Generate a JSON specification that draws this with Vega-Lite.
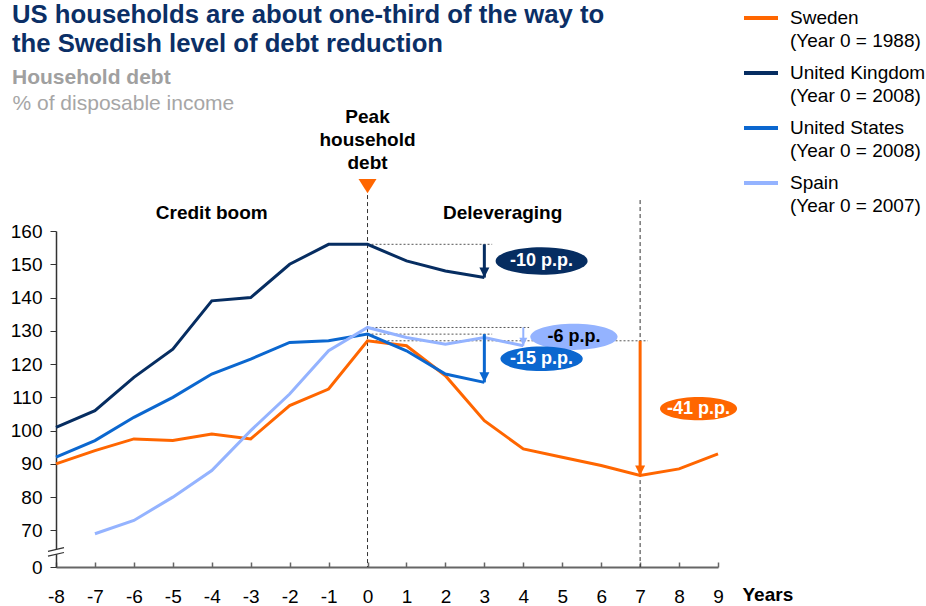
{
  "$schema": "https://vega.github.io/schema/vega-lite/v6.json",
  "width": 662,
  "height": 336,
  "autosize": {"type": "none"},
  "padding": {"left": 56, "top": 231, "right": 208, "bottom": 39},
  "background": "white",
  "config": {
    "font": "Liberation Sans",
    "view": {"stroke": null},
    "text": {"font": "Liberation Sans"},
    "axis": {"labelOverlap": false, "labelSeparation": 0}
  },
  "title": {
    "text": ["US households are about one-third of the way to", "the Swedish level of debt reduction"],
    "subtitle": "Household debt",
    "anchor": "start",
    "frame": "group",
    "offset": 0,
    "dx": -44,
    "dy": 90,
    "fontSize": 25.7,
    "font": "Liberation Sans",
    "fontWeight": "bold",
    "color": "#0b2f66",
    "lineHeight": 28.5,
    "subtitleFont": "Liberation Sans",
    "subtitleFontSize": 21,
    "subtitleFontWeight": "bold",
    "subtitleColor": "#a0a0a0",
    "subtitlePadding": 9.5
  },
  "datasets": {
    "series": [
      {"country": "Sweden", "year": -8, "value": 90},
      {"country": "Sweden", "year": -7, "value": 94},
      {"country": "Sweden", "year": -6, "value": 97.5},
      {"country": "Sweden", "year": -5, "value": 97},
      {"country": "Sweden", "year": -4, "value": 99},
      {"country": "Sweden", "year": -3, "value": 97.5},
      {"country": "Sweden", "year": -2, "value": 107.5},
      {"country": "Sweden", "year": -1, "value": 112.5},
      {"country": "Sweden", "year": 0, "value": 127},
      {"country": "Sweden", "year": 1, "value": 125.5},
      {"country": "Sweden", "year": 2, "value": 116.5},
      {"country": "Sweden", "year": 3, "value": 103},
      {"country": "Sweden", "year": 4, "value": 94.5},
      {"country": "Sweden", "year": 5, "value": 92},
      {"country": "Sweden", "year": 6, "value": 89.5},
      {"country": "Sweden", "year": 7, "value": 86.5},
      {"country": "Sweden", "year": 8, "value": 88.5},
      {"country": "Sweden", "year": 9, "value": 93},
      {"country": "United Kingdom", "year": -8, "value": 101},
      {"country": "United Kingdom", "year": -7, "value": 106},
      {"country": "United Kingdom", "year": -6, "value": 116},
      {"country": "United Kingdom", "year": -5, "value": 124.5},
      {"country": "United Kingdom", "year": -4, "value": 139},
      {"country": "United Kingdom", "year": -3, "value": 140},
      {"country": "United Kingdom", "year": -2, "value": 150},
      {"country": "United Kingdom", "year": -1, "value": 156},
      {"country": "United Kingdom", "year": 0, "value": 156},
      {"country": "United Kingdom", "year": 1, "value": 151},
      {"country": "United Kingdom", "year": 2, "value": 148},
      {"country": "United Kingdom", "year": 3, "value": 146},
      {"country": "United States", "year": -8, "value": 92},
      {"country": "United States", "year": -7, "value": 97},
      {"country": "United States", "year": -6, "value": 104},
      {"country": "United States", "year": -5, "value": 110},
      {"country": "United States", "year": -4, "value": 117},
      {"country": "United States", "year": -3, "value": 121.5},
      {"country": "United States", "year": -2, "value": 126.5},
      {"country": "United States", "year": -1, "value": 127},
      {"country": "United States", "year": 0, "value": 129},
      {"country": "United States", "year": 1, "value": 124},
      {"country": "United States", "year": 2, "value": 117},
      {"country": "United States", "year": 3, "value": 114.5},
      {"country": "Spain", "year": -7, "value": 69},
      {"country": "Spain", "year": -6, "value": 73},
      {"country": "Spain", "year": -5, "value": 80},
      {"country": "Spain", "year": -4, "value": 88},
      {"country": "Spain", "year": -3, "value": 100},
      {"country": "Spain", "year": -2, "value": 111},
      {"country": "Spain", "year": -1, "value": 124},
      {"country": "Spain", "year": 0, "value": 131},
      {"country": "Spain", "year": 1, "value": 128},
      {"country": "Spain", "year": 2, "value": 126},
      {"country": "Spain", "year": 3, "value": 128},
      {"country": "Spain", "year": 4, "value": 125.5}
    ],
    "vlines": [
      {"x": 0, "y1": 170.8, "y2": 59},
      {"x": 7, "y1": 169.3, "y2": 59}
    ],
    "hlines": [
      {"x1": 0, "x2": 3.2, "y": 156},
      {"x1": 0, "x2": 4.15, "y": 131},
      {"x1": 0, "x2": 3.2, "y": 129},
      {"x1": 0, "x2": 7.2, "y": 127}
    ],
    "arrows": [
      {"country": "United Kingdom", "x": 3, "start": 156, "end": 146},
      {"country": "United States", "x": 3, "start": 129, "end": 114.5},
      {"country": "Spain", "x": 4, "start": 131, "end": 125.5},
      {"country": "Sweden", "x": 7, "start": 127, "end": 86.5}
    ],
    "badges": [
      {"country": "United Kingdom", "label": "-10 p.p.", "x": 4.47, "y": 151},
      {"country": "Spain", "label": "-6 p.p.", "x": 5.3, "y": 128.2},
      {"country": "United States", "label": "-15 p.p.", "x": 4.47, "y": 121.6},
      {"country": "Sweden", "label": "-41 p.p.", "x": 8.5, "y": 106.6}
    ],
    "phases": [
      {"label": "Credit boom", "x": -4, "y": 165.4},
      {"label": "Deleveraging", "x": 3.47, "y": 165.4}
    ],
    "peak": [
      {"label": "Peak\nhousehold\ndebt", "x": 0, "ytext": 194.2, "ymark": 173.5}
    ],
    "axisbreak": [
      {"x": -8, "y": 63.6}
    ]
  },
  "layer": [
    {
      "data": {"name": "vlines"},
      "mark": {"type": "rule", "color": "#333333", "strokeWidth": 1, "strokeDash": [4, 3]},
      "encoding": {
        "x": {
          "field": "x", "type": "quantitative",
          "scale": {"domain": [-8, 9], "nice": false, "zero": false},
          "axis": {
            "values": [-8, -7, -6, -5, -4, -3, -2, -1, 0, 1, 2, 3, 4, 5, 6, 7, 8, 9],
            "tickCount": 40,
            "labelExpr": "'' + datum.value",
            "grid": false,
            "tickSize": -5,
            "tickColor": "#666666",
            "tickWidth": 1.5,
            "domainColor": "#666666",
            "domainWidth": 2,
            "labelFontSize": 19,
            "labelColor": "#000000",
            "labelPadding": 25,
            "labelFlush": false,
            "labelOverlap": false,
            "labelBound": false,
            "title": "Years",
            "titleX": 686,
            "titleY": 33,
            "titleAlign": "left",
            "titleBaseline": "alphabetic",
            "titleFontSize": 19,
            "titleFontWeight": "bold",
            "titleColor": "#000000"
          }
        },
        "y": {
          "field": "y1", "type": "quantitative",
          "scale": {"domain": [59, 160], "nice": false, "zero": false},
          "axis": {
            "values": [59, 70, 80, 90, 100, 110, 120, 130, 140, 150, 160],
            "tickCount": 40,
            "labelExpr": "datum.value == 59 ? '0' : '' + datum.value",
            "grid": false,
            "tickSize": 6,
            "tickColor": "#333333",
            "domainColor": "#333333",
            "domainWidth": 1.5,
            "labelFontSize": 19,
            "labelColor": "#000000",
            "labelPadding": 8,
            "labelOverlap": false,
            "labelBound": false,
            "title": "% of disposable income",
            "titleAngle": 0,
            "titleAlign": "left",
            "titleBaseline": "alphabetic",
            "titleX": -44,
            "titleY": -122,
            "titleFontSize": 21,
            "titleFontWeight": "normal",
            "titleColor": "#a6a6a6"
          }
        },
        "y2": {"field": "y2"}
      }
    },
    {
      "data": {"name": "hlines"},
      "mark": {"type": "rule", "color": "#555555", "strokeWidth": 1, "strokeDash": [2, 2]},
      "encoding": {
        "x": {"field": "x1", "type": "quantitative"},
        "x2": {"field": "x2"},
        "y": {"field": "y", "type": "quantitative"}
      }
    },
    {
      "data": {"name": "series"},
      "mark": {"type": "line", "strokeWidth": 3, "strokeJoin": "miter"},
      "encoding": {
        "x": {"field": "year", "type": "quantitative"},
        "y": {"field": "value", "type": "quantitative"},
        "color": {
          "field": "country", "type": "nominal",
          "scale": {
            "domain": ["Sweden", "United Kingdom", "United States", "Spain"],
            "range": ["#ff6600", "#062d61", "#0b67cf", "#94b3ff"]
          },
          "legend": {
            "orient": "none",
            "legendX": 686,
            "legendY": -232,
            "title": null,
            "symbolType": "stroke",
            "symbolSize": 1156,
            "symbolStrokeWidth": 4,
            "labelFontSize": 19,
            "labelColor": "#000000",
            "labelOffset": 10,
            "labelLimit": 300,
            "rowPadding": 3,
            "labelExpr": "[datum.label, '(Year 0 = ' + (datum.label == 'Sweden' ? '1988' : datum.label == 'Spain' ? '2007' : '2008') + ')']",
            "encode": {"labels": {"update": {"lineHeight": {"value": 23}}}}
          }
        },
        "detail": {"field": "country"}
      }
    },
    {
      "data": {"name": "arrows"},
      "mark": {"type": "rule"},
      "encoding": {
        "x": {"field": "x", "type": "quantitative"},
        "y": {"field": "start", "type": "quantitative"},
        "y2": {"field": "end"},
        "color": {"field": "country", "type": "nominal", "legend": null},
        "strokeWidth": {"condition": {"test": "datum.country === 'Spain'", "value": 2}, "value": 3}
      }
    },
    {
      "data": {"name": "arrows"},
      "mark": {"type": "point", "filled": true, "opacity": 1, "shape": "M-1,-2L1,-2L0,0Z"},
      "encoding": {
        "x": {"field": "x", "type": "quantitative"},
        "y": {"field": "end", "type": "quantitative"},
        "color": {"field": "country", "type": "nominal", "legend": null},
        "size": {"condition": {"test": "datum.country === 'Spain'", "value": 64}, "value": 100}
      }
    },
    {
      "data": {"name": "badges"},
      "mark": {"type": "point", "filled": true, "opacity": 1, "shape": "M-1,0C-1,-0.166,-0.552,-0.3,0,-0.3C0.552,-0.3,1,-0.166,1,0C1,0.166,0.552,0.3,0,0.3C-0.552,0.3,-1,0.166,-1,0Z"},
      "encoding": {
        "x": {"field": "x", "type": "quantitative"},
        "y": {"field": "y", "type": "quantitative"},
        "color": {"field": "country", "type": "nominal", "legend": null},
        "size": {
          "field": "label", "type": "nominal", "legend": null,
          "scale": {"domain": ["-10 p.p.", "-6 p.p.", "-15 p.p.", "-41 p.p."], "range": [8464, 5929, 8464, 8464]}
        }
      }
    },
    {
      "data": {"name": "badges"},
      "mark": {"type": "text", "fontSize": 18, "fontWeight": "bold", "font": "Liberation Sans", "baseline": "middle", "align": "center"},
      "encoding": {
        "x": {"field": "x", "type": "quantitative"},
        "y": {"field": "y", "type": "quantitative"},
        "text": {"field": "label"},
        "color": {"condition": {"test": "datum.country === 'Spain'", "value": "#000000"}, "value": "#ffffff"}
      }
    },
    {
      "data": {"name": "phases"},
      "mark": {"type": "text", "fontSize": 19, "fontWeight": "bold", "font": "Liberation Sans", "baseline": "middle", "align": "center", "color": "#000000"},
      "encoding": {
        "x": {"field": "x", "type": "quantitative"},
        "y": {"field": "y", "type": "quantitative"},
        "text": {"field": "label"}
      }
    },
    {
      "data": {"name": "peak"},
      "mark": {"type": "text", "fontSize": 19, "fontWeight": "bold", "font": "Liberation Sans", "baseline": "middle", "align": "center", "color": "#000000", "lineBreak": "\n", "lineHeight": 23},
      "encoding": {
        "x": {"field": "x", "type": "quantitative"},
        "y": {"field": "ytext", "type": "quantitative"},
        "text": {"field": "label"}
      }
    },
    {
      "data": {"name": "peak"},
      "mark": {"type": "point", "filled": true, "opacity": 1, "color": "#ff6600", "shape": "M-1,-0.8L1,-0.8L0,0.8Z", "size": 324},
      "encoding": {
        "x": {"field": "x", "type": "quantitative"},
        "y": {"field": "ymark", "type": "quantitative"}
      }
    },
    {
      "data": {"name": "axisbreak"},
      "mark": {"type": "point", "filled": true, "opacity": 1, "color": "#ffffff", "strokeWidth": 0, "shape": "M-1,-0.05L1,-0.5L1,0.1L-1,0.55Z", "size": 256},
      "encoding": {
        "x": {"field": "x", "type": "quantitative"},
        "y": {"field": "y", "type": "quantitative"}
      }
    },
    {
      "data": {"name": "axisbreak"},
      "mark": {"type": "point", "filled": false, "opacity": 1, "color": "#333333", "strokeWidth": 1.2, "shape": "M-1,-0.05L1,-0.5M-1,0.55L1,0.1", "size": 256},
      "encoding": {
        "x": {"field": "x", "type": "quantitative"},
        "y": {"field": "y", "type": "quantitative"}
      }
    }
  ]
}
